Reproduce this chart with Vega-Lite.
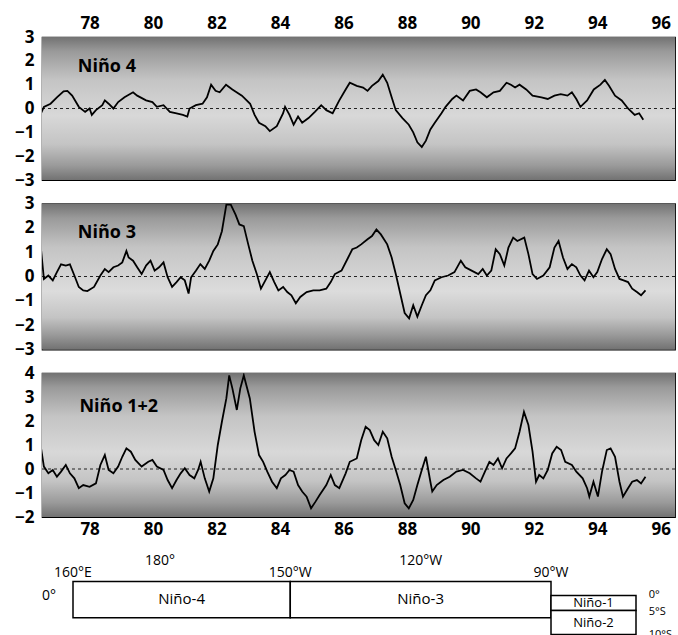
{
  "$schema": "https://vega.github.io/schema/vega-lite/v6.json",
  "padding": {"left": 13, "top": 13, "right": 0, "bottom": 0},
  "bounds": "flush",
  "spacing": 23.5,
  "background": "white",
  "config": {
    "font": "Open Sans",
    "view": {"stroke": "black", "strokeWidth": 1.2},
    "axis": {"labelFont": "Open Sans", "labelFontSize": 17, "labelFontWeight": "bold", "labelColor": "black", "ticks": false, "domain": false, "grid": false}
  },
  "datasets": {
    "n4": [
      {"year": 76.47, "anom": -0.2}, {"year": 76.56, "anom": 0.07}, {"year": 76.77, "anom": 0.2}, {"year": 76.97, "anom": 0.47}, {"year": 77.18, "anom": 0.72}, {"year": 77.3, "anom": 0.74}, {"year": 77.45, "anom": 0.54}, {"year": 77.66, "anom": 0.07}, {"year": 77.86, "anom": -0.14}, {"year": 78.0, "anom": 0}, {"year": 78.07, "anom": -0.27}, {"year": 78.2, "anom": -0.07}, {"year": 78.4, "anom": 0.14}, {"year": 78.48, "anom": 0.34}, {"year": 78.6, "anom": 0.2}, {"year": 78.75, "anom": 0}, {"year": 78.9, "anom": 0.27}, {"year": 79.1, "anom": 0.47}, {"year": 79.37, "anom": 0.68}, {"year": 79.5, "anom": 0.54}, {"year": 79.78, "anom": 0.34}, {"year": 79.98, "anom": 0.27}, {"year": 80.12, "anom": 0.07}, {"year": 80.33, "anom": 0.14}, {"year": 80.53, "anom": -0.14}, {"year": 80.74, "anom": -0.2}, {"year": 80.94, "anom": -0.27}, {"year": 81.08, "anom": -0.34}, {"year": 81.15, "anom": 0}, {"year": 81.35, "anom": 0.14}, {"year": 81.56, "anom": 0.2}, {"year": 81.7, "anom": 0.47}, {"year": 81.83, "anom": 1.0}, {"year": 81.97, "anom": 0.74}, {"year": 82.1, "anom": 0.68}, {"year": 82.3, "anom": 1.0}, {"year": 82.5, "anom": 0.8}, {"year": 82.8, "anom": 0.54}, {"year": 83.06, "anom": 0.2}, {"year": 83.2, "anom": -0.27}, {"year": 83.34, "anom": -0.6}, {"year": 83.54, "anom": -0.74}, {"year": 83.68, "anom": -0.95}, {"year": 83.9, "anom": -0.74}, {"year": 84.1, "anom": -0.2}, {"year": 84.16, "anom": 0.07}, {"year": 84.3, "anom": -0.27}, {"year": 84.43, "anom": -0.68}, {"year": 84.57, "anom": -0.34}, {"year": 84.7, "anom": -0.6}, {"year": 84.9, "anom": -0.4}, {"year": 85.1, "anom": -0.14}, {"year": 85.3, "anom": 0.14}, {"year": 85.46, "anom": -0.07}, {"year": 85.66, "anom": -0.2}, {"year": 85.87, "anom": 0.34}, {"year": 86.07, "anom": 0.8}, {"year": 86.2, "anom": 1.08}, {"year": 86.42, "anom": 0.95}, {"year": 86.62, "anom": 0.88}, {"year": 86.76, "anom": 0.74}, {"year": 86.9, "anom": 0.95}, {"year": 87.1, "anom": 1.15}, {"year": 87.24, "anom": 1.42}, {"year": 87.38, "anom": 1.08}, {"year": 87.52, "anom": 0.47}, {"year": 87.65, "anom": -0.07}, {"year": 87.86, "anom": -0.4}, {"year": 88.06, "anom": -0.68}, {"year": 88.2, "anom": -1.0}, {"year": 88.33, "anom": -1.42}, {"year": 88.47, "anom": -1.62}, {"year": 88.6, "anom": -1.35}, {"year": 88.74, "anom": -0.88}, {"year": 88.88, "anom": -0.6}, {"year": 89.09, "anom": -0.2}, {"year": 89.22, "anom": 0.07}, {"year": 89.43, "anom": 0.4}, {"year": 89.56, "anom": 0.54}, {"year": 89.77, "anom": 0.34}, {"year": 89.98, "anom": 0.74}, {"year": 90.18, "anom": 0.8}, {"year": 90.32, "anom": 0.68}, {"year": 90.52, "anom": 0.47}, {"year": 90.73, "anom": 0.68}, {"year": 90.93, "anom": 0.74}, {"year": 91.14, "anom": 1.08}, {"year": 91.28, "anom": 1.0}, {"year": 91.41, "anom": 0.88}, {"year": 91.55, "anom": 1.0}, {"year": 91.76, "anom": 0.8}, {"year": 91.96, "anom": 0.54}, {"year": 92.24, "anom": 0.47}, {"year": 92.44, "anom": 0.4}, {"year": 92.65, "anom": 0.54}, {"year": 92.85, "anom": 0.6}, {"year": 93.06, "anom": 0.54}, {"year": 93.2, "anom": 0.68}, {"year": 93.34, "anom": 0.4}, {"year": 93.47, "anom": 0.07}, {"year": 93.68, "anom": 0.34}, {"year": 93.89, "anom": 0.8}, {"year": 94.1, "anom": 1.0}, {"year": 94.24, "anom": 1.2}, {"year": 94.37, "anom": 0.95}, {"year": 94.56, "anom": 0.54}, {"year": 94.77, "anom": 0.34}, {"year": 94.97, "anom": 0}, {"year": 95.18, "anom": -0.27}, {"year": 95.32, "anom": -0.2}, {"year": 95.45, "anom": -0.47}
    ],
    "n3": [
      {"year": 76.47, "anom": 1.1}, {"year": 76.56, "anom": -0.1}, {"year": 76.7, "anom": 0.04}, {"year": 76.84, "anom": -0.16}, {"year": 76.97, "anom": 0.18}, {"year": 77.1, "anom": 0.5}, {"year": 77.25, "anom": 0.45}, {"year": 77.38, "anom": 0.5}, {"year": 77.52, "anom": 0.04}, {"year": 77.66, "anom": -0.43}, {"year": 77.8, "anom": -0.57}, {"year": 77.93, "anom": -0.6}, {"year": 78.14, "anom": -0.43}, {"year": 78.34, "anom": 0.04}, {"year": 78.48, "anom": 0.31}, {"year": 78.6, "anom": 0.18}, {"year": 78.75, "anom": 0.38}, {"year": 78.9, "anom": 0.45}, {"year": 79.03, "anom": 0.58}, {"year": 79.16, "anom": 1.05}, {"year": 79.23, "anom": 0.78}, {"year": 79.37, "anom": 0.65}, {"year": 79.5, "anom": 0.38}, {"year": 79.64, "anom": 0.1}, {"year": 79.78, "anom": 0.45}, {"year": 79.92, "anom": 0.65}, {"year": 80.05, "anom": 0.24}, {"year": 80.19, "anom": 0.38}, {"year": 80.33, "anom": 0.58}, {"year": 80.46, "anom": -0.03}, {"year": 80.6, "anom": -0.43}, {"year": 80.74, "anom": -0.23}, {"year": 80.87, "anom": -0.03}, {"year": 81.0, "anom": -0.16}, {"year": 81.12, "anom": -0.7}, {"year": 81.2, "anom": -0.03}, {"year": 81.35, "anom": 0.24}, {"year": 81.49, "anom": 0.51}, {"year": 81.63, "anom": 0.31}, {"year": 81.77, "anom": 0.65}, {"year": 81.9, "anom": 1.05}, {"year": 82.04, "anom": 1.32}, {"year": 82.17, "anom": 1.86}, {"year": 82.31, "anom": 2.95}, {"year": 82.45, "anom": 2.95}, {"year": 82.6, "anom": 2.54}, {"year": 82.72, "anom": 2.14}, {"year": 82.86, "anom": 2.07}, {"year": 83.0, "anom": 1.32}, {"year": 83.13, "anom": 0.65}, {"year": 83.27, "anom": 0.1}, {"year": 83.4, "anom": -0.5}, {"year": 83.54, "anom": -0.16}, {"year": 83.68, "anom": 0.18}, {"year": 83.82, "anom": -0.23}, {"year": 83.95, "anom": -0.57}, {"year": 84.1, "anom": -0.43}, {"year": 84.23, "anom": -0.64}, {"year": 84.36, "anom": -0.77}, {"year": 84.5, "anom": -1.1}, {"year": 84.64, "anom": -0.84}, {"year": 84.84, "anom": -0.64}, {"year": 85.05, "anom": -0.57}, {"year": 85.25, "anom": -0.57}, {"year": 85.46, "anom": -0.5}, {"year": 85.6, "anom": -0.23}, {"year": 85.73, "anom": 0.1}, {"year": 85.94, "anom": 0.24}, {"year": 86.15, "anom": 0.78}, {"year": 86.28, "anom": 1.12}, {"year": 86.42, "anom": 1.19}, {"year": 86.56, "anom": 1.32}, {"year": 86.76, "anom": 1.53}, {"year": 86.9, "anom": 1.66}, {"year": 87.04, "anom": 1.93}, {"year": 87.18, "anom": 1.73}, {"year": 87.38, "anom": 1.32}, {"year": 87.52, "anom": 0.78}, {"year": 87.65, "anom": 0.1}, {"year": 87.79, "anom": -0.7}, {"year": 87.93, "anom": -1.5}, {"year": 88.07, "anom": -1.72}, {"year": 88.2, "anom": -1.18}, {"year": 88.33, "anom": -1.65}, {"year": 88.47, "anom": -1.18}, {"year": 88.6, "anom": -0.77}, {"year": 88.74, "anom": -0.57}, {"year": 88.88, "anom": -0.16}, {"year": 89.09, "anom": -0.03}, {"year": 89.3, "anom": 0.04}, {"year": 89.5, "anom": 0.18}, {"year": 89.7, "anom": 0.65}, {"year": 89.84, "anom": 0.38}, {"year": 90.04, "anom": 0.24}, {"year": 90.25, "anom": 0.1}, {"year": 90.39, "anom": 0.31}, {"year": 90.52, "anom": 0.04}, {"year": 90.66, "anom": 0.24}, {"year": 90.8, "anom": 1.12}, {"year": 90.93, "anom": 0.92}, {"year": 91.07, "anom": 0.45}, {"year": 91.2, "anom": 1.19}, {"year": 91.35, "anom": 1.6}, {"year": 91.48, "anom": 1.46}, {"year": 91.7, "anom": 1.6}, {"year": 91.83, "anom": 0.92}, {"year": 91.96, "anom": 0.1}, {"year": 92.1, "anom": -0.1}, {"year": 92.3, "anom": 0.04}, {"year": 92.5, "anom": 0.38}, {"year": 92.65, "anom": 1.19}, {"year": 92.78, "anom": 1.46}, {"year": 92.92, "anom": 0.78}, {"year": 93.06, "anom": 0.31}, {"year": 93.2, "anom": 0.51}, {"year": 93.34, "anom": 0.38}, {"year": 93.47, "anom": 0.04}, {"year": 93.6, "anom": -0.16}, {"year": 93.74, "anom": 0.24}, {"year": 93.88, "anom": -0.03}, {"year": 94.0, "anom": 0.18}, {"year": 94.15, "anom": 0.72}, {"year": 94.3, "anom": 1.12}, {"year": 94.42, "anom": 0.92}, {"year": 94.56, "anom": 0.31}, {"year": 94.7, "anom": -0.1}, {"year": 94.83, "anom": -0.16}, {"year": 94.97, "anom": -0.23}, {"year": 95.1, "anom": -0.5}, {"year": 95.25, "anom": -0.64}, {"year": 95.38, "anom": -0.77}, {"year": 95.52, "anom": -0.57}
    ],
    "n12": [
      {"year": 76.47, "anom": 0.86}, {"year": 76.56, "anom": 0.1}, {"year": 76.7, "anom": -0.18}, {"year": 76.84, "anom": -0.04}, {"year": 76.97, "anom": -0.32}, {"year": 77.1, "anom": -0.11}, {"year": 77.25, "anom": 0.17}, {"year": 77.38, "anom": -0.18}, {"year": 77.52, "anom": -0.39}, {"year": 77.66, "anom": -0.8}, {"year": 77.8, "anom": -0.67}, {"year": 78.0, "anom": -0.74}, {"year": 78.2, "anom": -0.6}, {"year": 78.34, "anom": 0.17}, {"year": 78.48, "anom": 0.58}, {"year": 78.6, "anom": -0.04}, {"year": 78.75, "anom": -0.18}, {"year": 78.9, "anom": 0.1}, {"year": 79.03, "anom": 0.51}, {"year": 79.16, "anom": 0.86}, {"year": 79.3, "anom": 0.72}, {"year": 79.44, "anom": 0.38}, {"year": 79.64, "anom": 0.1}, {"year": 79.85, "anom": 0.3}, {"year": 79.98, "anom": 0.38}, {"year": 80.12, "anom": 0.1}, {"year": 80.33, "anom": -0.04}, {"year": 80.46, "anom": -0.46}, {"year": 80.6, "anom": -0.8}, {"year": 80.74, "anom": -0.46}, {"year": 80.87, "anom": -0.18}, {"year": 81.0, "anom": 0.03}, {"year": 81.15, "anom": -0.25}, {"year": 81.3, "anom": -0.39}, {"year": 81.42, "anom": -0.04}, {"year": 81.5, "anom": 0.3}, {"year": 81.63, "anom": -0.39}, {"year": 81.77, "anom": -0.94}, {"year": 81.9, "anom": -0.39}, {"year": 82.04, "anom": 1.0}, {"year": 82.17, "anom": 1.97}, {"year": 82.31, "anom": 2.94}, {"year": 82.4, "anom": 3.9}, {"year": 82.5, "anom": 3.36}, {"year": 82.64, "anom": 2.46}, {"year": 82.75, "anom": 3.36}, {"year": 82.86, "anom": 3.9}, {"year": 83.05, "anom": 2.94}, {"year": 83.2, "anom": 1.55}, {"year": 83.34, "anom": 0.58}, {"year": 83.47, "anom": 0.3}, {"year": 83.6, "anom": -0.11}, {"year": 83.75, "anom": -0.53}, {"year": 83.9, "anom": -0.8}, {"year": 84.03, "anom": -0.39}, {"year": 84.17, "anom": -0.25}, {"year": 84.3, "anom": -0.04}, {"year": 84.43, "anom": -0.11}, {"year": 84.57, "anom": -0.67}, {"year": 84.7, "anom": -0.94}, {"year": 84.84, "anom": -1.15}, {"year": 84.98, "anom": -1.64}, {"year": 85.12, "anom": -1.36}, {"year": 85.25, "anom": -1.08}, {"year": 85.46, "anom": -0.67}, {"year": 85.6, "anom": -0.25}, {"year": 85.73, "anom": -0.67}, {"year": 85.87, "anom": -0.8}, {"year": 86.07, "anom": -0.18}, {"year": 86.2, "anom": 0.3}, {"year": 86.42, "anom": 0.44}, {"year": 86.56, "anom": 1.2}, {"year": 86.7, "anom": 1.76}, {"year": 86.83, "anom": 1.62}, {"year": 86.97, "anom": 1.2}, {"year": 87.1, "anom": 1.0}, {"year": 87.24, "anom": 1.55}, {"year": 87.38, "anom": 1.28}, {"year": 87.52, "anom": 0.51}, {"year": 87.65, "anom": -0.04}, {"year": 87.79, "anom": -0.67}, {"year": 87.93, "anom": -1.43}, {"year": 88.06, "anom": -1.64}, {"year": 88.2, "anom": -1.29}, {"year": 88.33, "anom": -0.67}, {"year": 88.47, "anom": -0.04}, {"year": 88.6, "anom": 0.51}, {"year": 88.74, "anom": -0.53}, {"year": 88.8, "anom": -0.94}, {"year": 88.94, "anom": -0.67}, {"year": 89.15, "anom": -0.46}, {"year": 89.35, "anom": -0.32}, {"year": 89.56, "anom": -0.11}, {"year": 89.77, "anom": -0.04}, {"year": 89.98, "anom": -0.18}, {"year": 90.18, "anom": -0.39}, {"year": 90.32, "anom": -0.53}, {"year": 90.46, "anom": -0.11}, {"year": 90.6, "anom": 0.3}, {"year": 90.73, "anom": 0.17}, {"year": 90.87, "anom": 0.44}, {"year": 91.0, "anom": 0.03}, {"year": 91.14, "anom": 0.44}, {"year": 91.28, "anom": 0.65}, {"year": 91.41, "anom": 0.86}, {"year": 91.55, "anom": 1.55}, {"year": 91.69, "anom": 2.38}, {"year": 91.83, "anom": 1.83}, {"year": 91.96, "anom": 0.72}, {"year": 92.07, "anom": -0.53}, {"year": 92.17, "anom": -0.25}, {"year": 92.3, "anom": -0.39}, {"year": 92.44, "anom": -0.04}, {"year": 92.58, "anom": 0.65}, {"year": 92.72, "anom": 0.93}, {"year": 92.86, "anom": 0.79}, {"year": 92.99, "anom": 0.3}, {"year": 93.2, "anom": 0.17}, {"year": 93.34, "anom": -0.11}, {"year": 93.54, "anom": -0.39}, {"year": 93.68, "anom": -0.8}, {"year": 93.75, "anom": -1.15}, {"year": 93.88, "anom": -0.53}, {"year": 94.02, "anom": -1.15}, {"year": 94.15, "anom": -0.11}, {"year": 94.3, "anom": 0.79}, {"year": 94.42, "anom": 0.86}, {"year": 94.56, "anom": 0.51}, {"year": 94.7, "anom": -0.53}, {"year": 94.81, "anom": -1.15}, {"year": 94.97, "anom": -0.8}, {"year": 95.1, "anom": -0.53}, {"year": 95.25, "anom": -0.46}, {"year": 95.38, "anom": -0.6}, {"year": 95.52, "anom": -0.32}
    ]
  },
  "vconcat": [
    {
      "width": 633, "height": 143,
      "resolve": {"axis": {"x": "independent", "y": "independent"}},
      "layer": [
        {"data": {"values": [{}]}, "mark": {"type": "rect", "color": {"gradient": "linear", "x1": 0, "y1": 0, "x2": 0, "y2": 1, "stops": [{"offset": 0, "color": "#727272"}, {"offset": 0.1, "color": "#9a9a9a"}, {"offset": 0.3, "color": "#c4c4c4"}, {"offset": 0.55, "color": "#d8d8d8"}, {"offset": 0.75, "color": "#c4c4c4"}, {"offset": 0.9, "color": "#9a9a9a"}, {"offset": 1, "color": "#727272"}]}},
          "encoding": {"x": {"datum": 76.5, "type": "quantitative", "axis": null}, "x2": {"datum": 96.45}, "y": {"datum": 3, "type": "quantitative", "axis": null}, "y2": {"datum": -3}}},
        {"data": {"values": [{}]}, "mark": {"type": "rule", "color": "#222", "strokeWidth": 1, "strokeDash": [3, 3]}, "encoding": {"y": {"datum": 0, "type": "quantitative", "axis": null}}},
        {"data": {"name": "n4"}, "mark": {"type": "line", "color": "black", "strokeWidth": 1.8, "clip": true},
          "encoding": {
            "x": {"field": "year", "type": "quantitative", "scale": {"domain": [76.5, 96.45], "nice": false, "zero": false}, "axis": {"orient": "top", "values": [78, 80, 82, 84, 86, 88, 90, 92, 94, 96], "title": null, "labelPadding": 5, "labelFlush": false}},
            "y": {"field": "anom", "type": "quantitative", "scale": {"domain": [-3, 3], "nice": false}, "axis": {"values": [-3, -2, -1, 0, 1, 2, 3], "title": null, "labelPadding": 8, "labelFlush": false}}
          }},
        {"data": {"values": [{"year": 77.63, "anom": 1.74, "label": "Niño 4"}]}, "mark": {"type": "text", "align": "left", "baseline": "middle", "fontSize": 18, "fontWeight": "bold", "font": "Open Sans", "color": "black"},
          "encoding": {"x": {"field": "year", "type": "quantitative", "axis": null}, "y": {"field": "anom", "type": "quantitative", "axis": null}, "text": {"field": "label"}}}
      ]
    },
    {
      "width": 633, "height": 146,
      "resolve": {"axis": {"x": "independent", "y": "independent"}},
      "layer": [
        {"data": {"values": [{}]}, "mark": {"type": "rect", "color": {"gradient": "linear", "x1": 0, "y1": 0, "x2": 0, "y2": 1, "stops": [{"offset": 0, "color": "#727272"}, {"offset": 0.1, "color": "#9a9a9a"}, {"offset": 0.3, "color": "#c4c4c4"}, {"offset": 0.6, "color": "#dcdcdc"}, {"offset": 0.78, "color": "#c4c4c4"}, {"offset": 0.9, "color": "#9a9a9a"}, {"offset": 1, "color": "#727272"}]}},
          "encoding": {"x": {"datum": 76.5, "type": "quantitative", "axis": null}, "x2": {"datum": 96.45}, "y": {"datum": 3, "type": "quantitative", "axis": null}, "y2": {"datum": -3}}},
        {"data": {"values": [{}]}, "mark": {"type": "rule", "color": "#222", "strokeWidth": 1, "strokeDash": [3, 3]}, "encoding": {"y": {"datum": 0, "type": "quantitative", "axis": null}}},
        {"data": {"name": "n3"}, "mark": {"type": "line", "color": "black", "strokeWidth": 1.8, "clip": true},
          "encoding": {
            "x": {"field": "year", "type": "quantitative", "scale": {"domain": [76.5, 96.45], "nice": false, "zero": false}, "axis": null},
            "y": {"field": "anom", "type": "quantitative", "scale": {"domain": [-3, 3], "nice": false}, "axis": {"values": [-3, -2, -1, 0, 1, 2, 3], "title": null, "labelPadding": 8, "labelFlush": false}}
          }},
        {"data": {"values": [{"year": 77.63, "anom": 1.79, "label": "Niño 3"}]}, "mark": {"type": "text", "align": "left", "baseline": "middle", "fontSize": 18, "fontWeight": "bold", "font": "Open Sans", "color": "black"},
          "encoding": {"x": {"field": "year", "type": "quantitative", "axis": null}, "y": {"field": "anom", "type": "quantitative", "axis": null}, "text": {"field": "label"}}}
      ]
    },
    {
      "width": 633, "height": 144,
      "resolve": {"axis": {"x": "independent", "y": "independent"}},
      "layer": [
        {"data": {"values": [{}]}, "mark": {"type": "rect", "color": {"gradient": "linear", "x1": 0, "y1": 0, "x2": 0, "y2": 1, "stops": [{"offset": 0, "color": "#727272"}, {"offset": 0.1, "color": "#9a9a9a"}, {"offset": 0.3, "color": "#c4c4c4"}, {"offset": 0.55, "color": "#d8d8d8"}, {"offset": 0.75, "color": "#c4c4c4"}, {"offset": 0.9, "color": "#9a9a9a"}, {"offset": 1, "color": "#727272"}]}},
          "encoding": {"x": {"datum": 76.5, "type": "quantitative", "axis": null}, "x2": {"datum": 96.45}, "y": {"datum": 4, "type": "quantitative", "axis": null}, "y2": {"datum": -2}}},
        {"data": {"values": [{}]}, "mark": {"type": "rule", "color": "#222", "strokeWidth": 1, "strokeDash": [3, 3]}, "encoding": {"y": {"datum": 0, "type": "quantitative", "axis": null}}},
        {"data": {"name": "n12"}, "mark": {"type": "line", "color": "black", "strokeWidth": 1.8, "clip": true},
          "encoding": {
            "x": {"field": "year", "type": "quantitative", "scale": {"domain": [76.5, 96.45], "nice": false, "zero": false}, "axis": {"orient": "bottom", "values": [78, 80, 82, 84, 86, 88, 90, 92, 94, 96], "title": null, "labelPadding": 4, "labelFlush": false}},
            "y": {"field": "anom", "type": "quantitative", "scale": {"domain": [-2, 4], "nice": false}, "axis": {"values": [-2, -1, 0, 1, 2, 3, 4], "title": null, "labelPadding": 8, "labelFlush": false}}
          }},
        {"data": {"values": [{"year": 77.68, "anom": 2.58, "label": "Niño 1+2"}]}, "mark": {"type": "text", "align": "left", "baseline": "middle", "fontSize": 18, "fontWeight": "bold", "font": "Open Sans", "color": "black"},
          "encoding": {"x": {"field": "year", "type": "quantitative", "axis": null}, "y": {"field": "anom", "type": "quantitative", "axis": null}, "text": {"field": "label"}}}
      ]
    },
    {
      "width": 633, "height": 96,
      "view": {"stroke": null},
      "layer": [
        {"data": {"values": [
            {"region": "Niño-4", "lon1": 160, "lon2": 210, "lat1": 5, "lat2": -6.5},
            {"region": "Niño-3", "lon1": 210, "lon2": 270, "lat1": 5, "lat2": -6.5},
            {"region": "Niño-1", "lon1": 270, "lon2": 280, "lat1": 0, "lat2": -5},
            {"region": "Niño-2", "lon1": 270, "lon2": 280, "lat1": -5, "lat2": -10}
          ]},
          "mark": {"type": "rect", "fill": "white", "stroke": "black", "strokeWidth": 1.5},
          "encoding": {
            "x": {"field": "lon1", "type": "quantitative", "scale": {"domain": [160, 270, 280], "range": [31, 509, 594], "nice": false, "zero": false}, "axis": null},
            "x2": {"field": "lon2"},
            "y": {"field": "lat1", "type": "quantitative", "scale": {"domain": [-10, -5, 0, 5], "range": [94, 70, 55, 41], "nice": false, "zero": false}, "axis": null},
            "y2": {"field": "lat2"}
          }},
        {"data": {"values": [
            {"label": "Niño-4", "lon": 185, "lat": -1.2},
            {"label": "Niño-3", "lon": 240, "lat": -1.2}
          ]},
          "mark": {"type": "text", "align": "center", "baseline": "middle", "fontSize": 15, "font": "Open Sans", "color": "black"},
          "encoding": {
            "x": {"field": "lon", "type": "quantitative", "scale": {"domain": [160, 270, 280], "range": [31, 509, 594], "nice": false, "zero": false}, "axis": null},
            "y": {"field": "lat", "type": "quantitative", "scale": {"domain": [-10, -5, 0, 5], "range": [94, 70, 55, 41], "nice": false, "zero": false}, "axis": null},
            "text": {"field": "label"}
          }},
        {"data": {"values": [
            {"label": "Niño-1", "lon": 275, "lat": -2.5},
            {"label": "Niño-2", "lon": 275, "lat": -7.5}
          ]},
          "mark": {"type": "text", "align": "center", "baseline": "middle", "fontSize": 13, "font": "Open Sans", "color": "black"},
          "encoding": {
            "x": {"field": "lon", "type": "quantitative", "scale": {"domain": [160, 270, 280], "range": [31, 509, 594], "nice": false, "zero": false}, "axis": null},
            "y": {"field": "lat", "type": "quantitative", "scale": {"domain": [-10, -5, 0, 5], "range": [94, 70, 55, 41], "nice": false, "zero": false}, "axis": null},
            "text": {"field": "label"}
          }},
        {"data": {"values": [
            {"label": "160°E", "lon": 160, "lat": 7.9},
            {"label": "180°", "lon": 180, "lat": 12.5},
            {"label": "150°W", "lon": 210, "lat": 7.9},
            {"label": "120°W", "lon": 240, "lat": 12.5},
            {"label": "90°W", "lon": 270, "lat": 7.9},
            {"label": "0°", "lon": 154.5, "lat": 0}
          ]},
          "mark": {"type": "text", "align": "center", "baseline": "middle", "fontSize": 14, "font": "Open Sans", "color": "black"},
          "encoding": {
            "x": {"field": "lon", "type": "quantitative", "scale": {"domain": [160, 270, 280], "range": [31, 509, 594], "nice": false, "zero": false}, "axis": null},
            "y": {"field": "lat", "type": "quantitative", "scale": {"domain": [-10, -5, 0, 5], "range": [94, 70, 55, 41], "nice": false, "zero": false}, "axis": null},
            "text": {"field": "label"}
          }},
        {"data": {"values": [
            {"label": "0°", "lon": 281.5, "lat": 0.3},
            {"label": "5°S", "lon": 281.5, "lat": -5.3},
            {"label": "10°S", "lon": 281.5, "lat": -10}
          ]},
          "mark": {"type": "text", "align": "left", "baseline": "middle", "fontSize": 11, "font": "Open Sans", "color": "black"},
          "encoding": {
            "x": {"field": "lon", "type": "quantitative", "scale": {"domain": [160, 270, 280], "range": [31, 509, 594], "nice": false, "zero": false}, "axis": null},
            "y": {"field": "lat", "type": "quantitative", "scale": {"domain": [-10, -5, 0, 5], "range": [94, 70, 55, 41], "nice": false, "zero": false}, "axis": null},
            "text": {"field": "label"}
          }}
      ]
    }
  ]
}
